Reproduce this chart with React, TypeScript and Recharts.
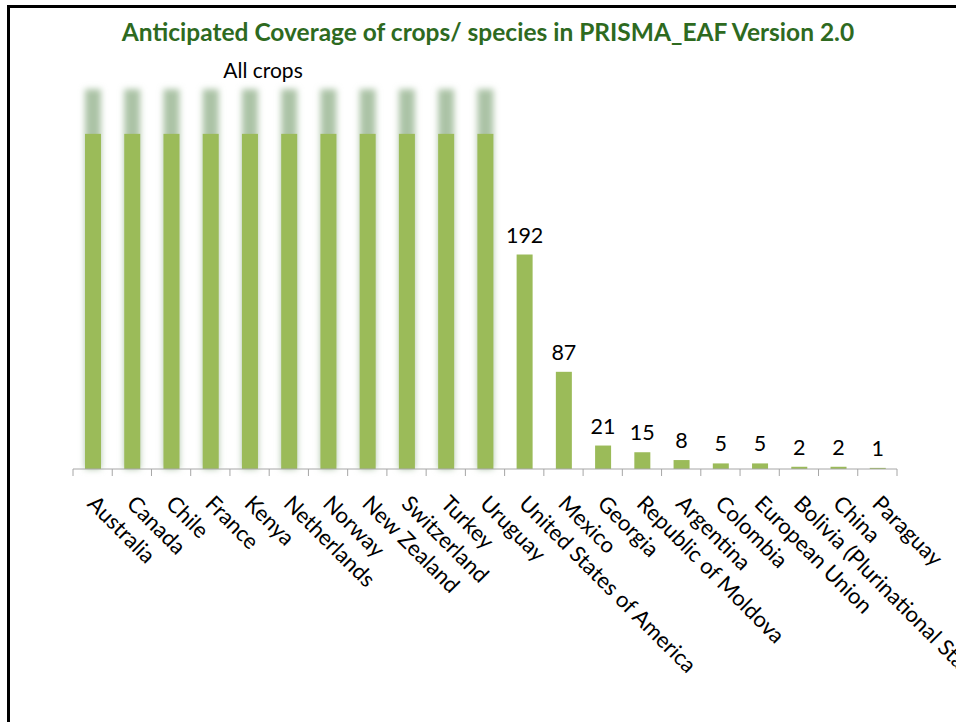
import React from "react";
import { BarChart, Bar, XAxis, YAxis, LabelList } from "recharts";

const countries = [
  "Australia",
  "Canada",
  "Chile",
  "France",
  "Kenya",
  "Netherlands",
  "Norway",
  "New Zealand",
  "Switzerland",
  "Turkey",
  "Uruguay",
  "United States of America",
  "Mexico",
  "Georgia",
  "Republic of Moldova",
  "Argentina",
  "Colombia",
  "European Union",
  "Bolivia (Plurinational State of)",
  "China",
  "Paraguay",
];

// the first 11 countries cover "All crops": drawn as a tall bar with a faded top
const coverage = [300, 300, 300, 300, 300, 300, 300, 300, 300, 300, 300, 192, 87, 21, 15, 8, 5, 5, 2, 2, 1];
const fadeExtra = [40, 40, 40, 40, 40, 40, 40, 40, 40, 40, 40, 0, 0, 0, 0, 0, 0, 0, 0, 0, 0];

const data = countries.map((name, i) => ({
  name,
  value: coverage[i],
  fade: fadeExtra[i],
  label: fadeExtra[i] > 0 ? null : coverage[i],
}));

const FONT = "Lato, 'Open Sans', sans-serif";
const GREEN = "#9bbb59";
const AXIS = "#a6a6a6";

function BarShape(props: any) {
  const { x, y, width, height, payload } = props;
  if (!payload.fade) {
    return <rect x={x} y={y} width={width} height={height} fill={GREEN} />;
  }
  const ext = (payload.fade * height) / payload.value;
  return (
    <g>
      <rect x={x} y={y - ext} width={width} height={height + ext} fill="#abc3a6" filter="url(#soft)" />
      <rect x={x} y={y} width={width} height={height} fill={GREEN} />
    </g>
  );
}

function CountryTick(props: any) {
  const { x, y, payload, index } = props;
  const off = payload.offset ?? 0;
  return (
    <g transform={`translate(${x},${y})`}>
      <line x1={-off} x2={-off} y1={0} y2={7} stroke={AXIS} />
      {index === countries.length - 1 && <line x1={off} x2={off} y1={0} y2={7} stroke={AXIS} />}
      <text transform="rotate(45)" x={21} y={30} textAnchor="start" fontFamily={FONT} fontSize={22} fill="#000">
        {payload.value}
      </text>
    </g>
  );
}

function ValueLabel(props: any) {
  const { x, y, width, value } = props;
  if (value === null || value === undefined) return null;
  return (
    <text x={x + width / 2} y={y - 12} textAnchor="middle" fontFamily={FONT} fontSize={21.5} fill="#000">
      {value}
    </text>
  );
}

export default function App() {
  return (
    <div style={{ position: "fixed", inset: 0, overflow: "hidden", background: "#fff" }}>
      <svg width={0} height={0} style={{ position: "absolute" }}>
        <defs>
          <filter id="soft" x="-60%" y="-20%" width="220%" height="140%">
            <feGaussianBlur stdDeviation="3.2" />
          </filter>
        </defs>
      </svg>
      <div
        style={{
          position: "absolute",
          left: 7,
          top: 5,
          width: 1000,
          height: 1000,
          border: "3px solid #000",
        }}
      />
      <div style={{ position: "absolute", left: 0, top: 0 }}>
        <BarChart width={956} height={722} data={data} margin={{ top: 78, right: 59, left: 73, bottom: 13 }}>
          <YAxis hide domain={[0, 350]} />
          <XAxis
            dataKey="name"
            height={240}
            interval={0}
            tickSize={0}
            tickMargin={0}
            tickLine={false}
            axisLine={{ stroke: AXIS }}
            tick={<CountryTick />}
          />
          <Bar dataKey="value" barSize={16} isAnimationActive={false} shape={<BarShape />}>
            <LabelList dataKey="label" content={<ValueLabel />} />
          </Bar>
        </BarChart>
      </div>
      <svg width={956} height={722} style={{ position: "absolute", left: 0, top: 0, pointerEvents: "none" }}>
        <text x={488} y={41} textAnchor="middle" fontFamily={FONT} fontWeight="bold" fontSize={24.5} fill="#2e6a1f">
          Anticipated Coverage of crops/ species in PRISMA_EAF Version 2.0
        </text>
        <text x={263} y={78} textAnchor="middle" fontFamily={FONT} fontSize={21} fill="#000">
          All crops
        </text>
      </svg>
    </div>
  );
}
